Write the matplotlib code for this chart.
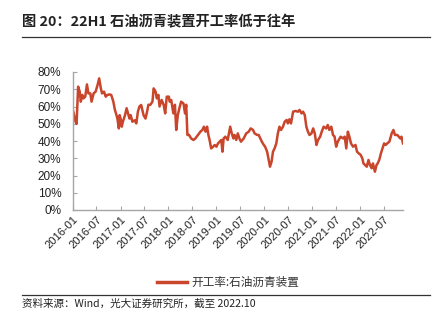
import matplotlib
matplotlib.use("Agg")
import matplotlib.pyplot as plt
from matplotlib.lines import Line2D
import pandas as pd

plt.rcParams['font.family'] = ['Noto Sans CJK SC', 'DejaVu Sans']

# 开工率:石油沥青装置 (%)
dates = [
    '2016-01-01', '2016-01-16', '2016-01-25', '2016-02-01', '2016-02-13', '2016-02-25',
    '2016-03-04', '2016-03-16', '2016-03-25', '2016-04-07', '2016-04-20', '2016-05-01',
    '2016-05-16', '2016-05-25', '2016-06-10', '2016-06-25', '2016-07-10', '2016-07-22',
    '2016-08-04', '2016-08-13', '2016-08-28', '2016-09-10', '2016-09-22', '2016-10-10',
    '2016-10-22', '2016-11-07', '2016-11-19', '2016-12-01', '2016-12-08', '2016-12-19',
    '2016-12-25', '2017-01-04', '2017-01-10', '2017-01-19', '2017-02-04', '2017-02-16',
    '2017-02-27', '2017-03-10', '2017-03-19', '2017-04-01', '2017-04-19', '2017-05-01',
    '2017-05-13', '2017-05-25', '2017-06-07', '2017-06-16', '2017-06-25', '2017-07-10',
    '2017-07-22', '2017-08-01', '2017-08-16', '2017-09-01', '2017-09-10', '2017-09-25',
    '2017-10-04', '2017-10-16', '2017-10-25', '2017-11-10', '2017-11-25', '2017-12-07',
    '2017-12-19', '2018-01-04', '2018-01-10', '2018-01-22', '2018-02-07', '2018-02-19',
    '2018-03-01', '2018-03-13', '2018-03-25', '2018-04-07', '2018-04-25', '2018-05-07',
    '2018-05-16', '2018-05-25', '2018-06-07', '2018-06-22', '2018-07-10', '2018-07-25',
    '2018-08-13', '2018-09-01', '2018-09-16', '2018-09-28', '2018-10-10', '2018-10-22',
    '2018-11-01', '2018-11-10', '2018-11-22', '2018-12-07', '2018-12-19', '2019-01-01',
    '2019-01-13', '2019-01-25', '2019-02-07', '2019-02-16', '2019-02-25', '2019-03-10',
    '2019-03-28', '2019-04-16', '2019-04-28', '2019-05-10', '2019-05-19', '2019-06-01',
    '2019-06-13', '2019-06-25', '2019-07-07', '2019-07-28', '2019-08-16', '2019-09-04',
    '2019-09-19', '2019-10-07', '2019-10-19', '2019-11-07', '2019-11-19', '2019-12-01',
    '2019-12-13', '2019-12-28', '2020-01-07', '2020-01-22', '2020-02-01', '2020-02-13',
    '2020-02-25', '2020-03-07', '2020-03-19', '2020-04-01', '2020-04-13', '2020-04-25',
    '2020-05-07', '2020-05-22', '2020-06-04', '2020-06-19', '2020-06-28', '2020-07-10',
    '2020-07-22', '2020-08-07', '2020-08-25', '2020-09-13', '2020-09-25', '2020-10-10',
    '2020-10-22', '2020-11-04', '2020-11-16', '2020-11-28', '2020-12-10', '2020-12-25',
    '2021-01-07', '2021-01-19', '2021-02-01', '2021-02-13', '2021-03-01', '2021-03-13',
    '2021-03-28', '2021-04-16', '2021-04-28', '2021-05-10', '2021-05-25', '2021-06-07',
    '2021-06-19', '2021-07-01', '2021-07-13', '2021-08-04', '2021-08-22', '2021-09-04',
    '2021-09-16', '2021-09-28', '2021-10-10', '2021-10-22', '2021-11-07', '2021-11-25',
    '2021-12-07', '2021-12-19', '2022-01-04', '2022-01-16', '2022-01-25', '2022-02-07',
    '2022-02-19', '2022-03-04', '2022-03-16', '2022-03-28', '2022-04-07', '2022-04-22',
    '2022-05-04', '2022-05-13', '2022-05-25', '2022-06-07', '2022-06-19', '2022-07-01',
    '2022-07-13', '2022-07-25', '2022-08-10', '2022-08-28', '2022-09-10', '2022-09-22',
    '2022-10-10', '2022-11-01', '2022-11-10', '2022-11-22',
]
rate = [
    59, 54, 51, 50, 71.5, 68.6,
    62.8, 66.7, 64.7, 65.7, 72.8, 67.6,
    67.6, 62.8, 67.6, 68.6, 72.5, 76.3,
    70.5, 67.6, 68.6, 65.7, 66.7, 67,
    66.7, 62.8, 58, 55, 53, 47.3,
    55, 52, 48.3, 51.2, 55, 59,
    56, 53, 55, 51.2, 52, 50.2,
    57, 60, 60.9, 58, 55, 53,
    57, 61, 61, 62.8, 70.5, 68.6,
    64.7, 66.7, 60, 63.8, 61, 56,
    65.7, 65.7, 62.8, 63.8, 56, 61,
    46.4, 55, 59, 62.8, 61.8, 56,
    61, 43.5, 43.5, 41.5, 40.6, 41.5,
    43.5, 45.4, 46.4, 48.3, 45.4, 48.3,
    43.5, 40.6, 35.7, 36.7, 37.7, 36.7,
    38.6, 39.6, 40.6, 33.8, 41.5, 42.5,
    40.6, 48.3, 44.4, 41.5, 43.5, 40.6,
    44.4, 41.5, 39.6, 41.5, 44.4, 45.4,
    47.3, 46.4, 44.4, 43.5, 43.5, 41.5,
    39.6, 37.7, 36.7, 33.8, 30, 25.1,
    28, 33.8, 35.7, 38.6, 44.4, 48.3,
    46.4, 48.3, 51.2, 52.2, 50.2, 52.6,
    50.2, 57, 57.4, 57, 58, 56,
    57, 55, 48.3, 45.4, 43.5, 44.4,
    47.3, 44.4, 37.7, 40.6, 42.5, 45.4,
    48.3, 47.3, 49.3, 46.4, 48.3, 43.5,
    42.5, 36.7, 39.6, 42.5, 41.5, 42.5,
    35.7, 45.4, 42.5, 38.6, 36.7, 37.7,
    33.8, 32.9, 31.9, 30, 27, 26,
    25.1, 29, 26, 24.2, 27, 22.2,
    26, 27, 29, 32.9, 35.7, 38.6,
    37.7, 38.6, 39.6, 44.4, 46.4, 43.5,
    43.5, 41.5, 42.5, 38.6,
]
tick_dates = ['2016-01', '2016-07', '2017-01', '2017-07', '2018-01', '2018-07', '2019-01',
              '2019-07', '2020-01', '2020-07', '2021-01', '2021-07', '2022-01', '2022-07']
y_ticks = [0, 10, 20, 30, 40, 50, 60, 70, 80]

x = pd.to_datetime(dates)
line_color = '#C9452B'
axis_color = '#A6A6A6'

fig = plt.figure(figsize=(4.45, 3.25), dpi=100)

# 标题和上下分隔线
fig.text(22 / 445, 1 - 22 / 325, '图 20：22H1 石油沥青装置开工率低于往年',
         fontsize=10.3, fontweight='bold', color='#222222', va='center', ha='left')
fig.add_artist(Line2D([22 / 445, 430 / 445], [1 - 37 / 325, 1 - 37 / 325],
                      color='#333333', lw=0.9))
fig.add_artist(Line2D([22 / 445, 430 / 445], [1 - 295 / 325, 1 - 295 / 325],
                      color='#333333', lw=0.9))
fig.text(22 / 445, 1 - 304 / 325, '资料来源：Wind，光大证券研究所，截至 2022.10',
         fontsize=7.6, color='#222222', va='center', ha='left')

ax = fig.add_axes([72.5 / 445, 1 - 210 / 325, (403 - 72.5) / 445, (210 - 72) / 325])
ax.plot(x, rate, color=line_color, lw=1.8, solid_joinstyle='round')

ax.set_ylim(0, 80)
ax.set_yticks(y_ticks)
ax.set_yticklabels([f'{v}%' for v in y_ticks], family=['Liberation Sans'], fontsize=8.5,
                   color='#222222')
ax.set_xlim(pd.Timestamp('2016-01-01'), pd.Timestamp('2022-11-22'))
ax.set_xticks(pd.to_datetime(tick_dates))
ax.set_xticklabels(tick_dates, rotation=45, ha='right', va='top', rotation_mode='anchor',
                   family=['Liberation Sans'], fontsize=8, color='#222222')

for side in ['top', 'right']:
    ax.spines[side].set_visible(False)
for side in ['left', 'bottom']:
    ax.spines[side].set_color(axis_color)
    ax.spines[side].set_linewidth(1.0)
ax.tick_params(axis='both', direction='in', length=3, color=axis_color, width=0.8)
ax.tick_params(axis='y', pad=8)
ax.tick_params(axis='x', pad=3)

# 图例
fig.add_artist(Line2D([157 / 445, 187 / 445], [1 - 282 / 325, 1 - 282 / 325],
                      color=line_color, lw=2.5))
fig.text(191 / 445, 1 - 282 / 325, '开工率:石油沥青装置', fontsize=8.4, color='#333333',
         va='center', ha='left')

fig.savefig('out.png', dpi=100)
